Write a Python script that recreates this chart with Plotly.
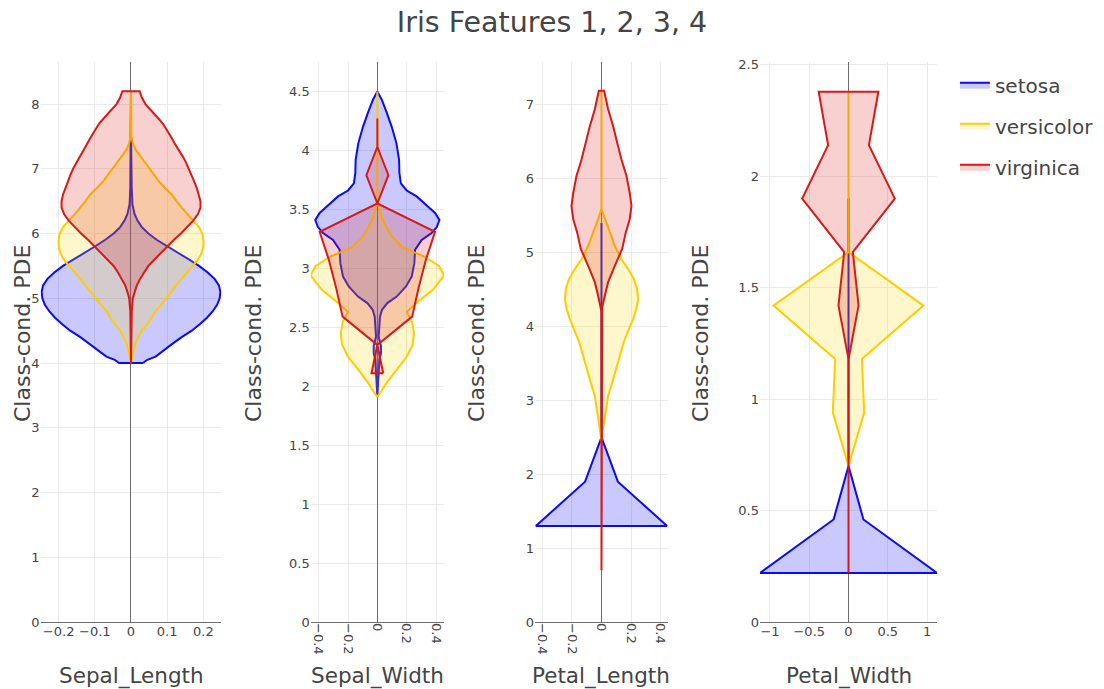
import plotly.graph_objects as go

# ---------------- data ----------------
classes = ["setosa", "versicolor", "virginica"]
features = ["Sepal_Length", "Sepal_Width", "Petal_Length", "Petal_Width"]

# Sepal_Length : value grid (y) and half-width of class-conditional PDE (w)
sl_setosa_y = [4.0, 4.05, 4.1, 4.2, 4.3, 4.4, 4.5, 4.6, 4.7, 4.8, 4.9, 5.0, 5.1, 5.2, 5.3, 5.4,
               5.5, 5.6, 5.7, 5.8, 5.9, 6.0, 6.1, 6.2, 6.3, 6.45, 6.7, 7.5, 8.2]
sl_setosa_w = [0.033, 0.045, 0.068, 0.09, 0.115, 0.14, 0.168, 0.19, 0.21, 0.226, 0.238, 0.245,
               0.247, 0.243, 0.231, 0.212, 0.188, 0.16, 0.13, 0.1, 0.072, 0.048, 0.03, 0.018,
               0.01, 0.004, 0.002, 0.0, 0.0]
sl_versicolor_y = [4.0, 4.15, 4.3, 4.4, 4.5, 4.6, 4.7, 4.8, 4.9, 5.0, 5.1, 5.2, 5.3, 5.4, 5.5,
                   5.6, 5.7, 5.8, 5.9, 6.0, 6.1, 6.2, 6.3, 6.4, 6.5, 6.6, 6.7, 6.8, 6.9, 7.0,
                   7.1, 7.2, 7.3, 7.4, 7.5, 8.2]
sl_versicolor_w = [0.0, 0.006, 0.012, 0.02, 0.03, 0.045, 0.057, 0.068, 0.083, 0.098, 0.112,
                   0.125, 0.14, 0.155, 0.172, 0.186, 0.195, 0.2, 0.2, 0.197, 0.188, 0.172,
                   0.155, 0.14, 0.126, 0.113, 0.095, 0.078, 0.065, 0.052, 0.038, 0.025, 0.012,
                   0.005, 0.001, 0.0]
sl_virginica_y = [4.0, 4.5, 4.8, 5.0, 5.1, 5.2, 5.3, 5.4, 5.5, 5.6, 5.7, 5.8, 5.9, 6.0, 6.1,
                  6.2, 6.3, 6.4, 6.5, 6.6, 6.7, 6.8, 6.9, 7.0, 7.1, 7.2, 7.3, 7.4, 7.5, 7.6,
                  7.7, 7.8, 7.9, 8.0, 8.1, 8.2]
sl_virginica_w = [0.0, 0.001, 0.002, 0.005, 0.01, 0.016, 0.025, 0.036, 0.048, 0.065, 0.082,
                  0.1, 0.118, 0.138, 0.155, 0.172, 0.185, 0.192, 0.192, 0.188, 0.182, 0.175,
                  0.168, 0.16, 0.152, 0.142, 0.13, 0.12, 0.11, 0.1, 0.088, 0.072, 0.055, 0.04,
                  0.03, 0.024]

# Sepal_Width
sw_setosa_y = [1.91, 2.03, 2.14, 2.225, 2.28, 2.34, 2.42, 2.51, 2.59, 2.648, 2.705, 2.76,
               2.846, 2.93, 3.044, 3.157, 3.24, 3.30, 3.35, 3.41, 3.47, 3.52, 3.61, 3.66,
               3.72, 3.81, 3.92, 4.06, 4.20, 4.32, 4.43, 4.5]
sw_setosa_w = [0.0, 0.005, 0.009, 0.014, 0.025, 0.025, 0.009, 0.014, 0.018, 0.032, 0.068,
               0.132, 0.195, 0.234, 0.252, 0.257, 0.302, 0.37, 0.405, 0.423, 0.393, 0.348,
               0.268, 0.2, 0.16, 0.15, 0.148, 0.13, 0.098, 0.064, 0.03, 0.0]
sw_versicolor_y = [1.91, 1.94, 2.03, 2.14, 2.25, 2.35, 2.45, 2.55, 2.63, 2.70, 2.82, 2.94,
                   3.02, 3.10, 3.18, 3.27, 3.35, 3.43, 3.565, 4.5]
sw_versicolor_w = [0.0, 0.018, 0.064, 0.13, 0.2, 0.24, 0.25, 0.235, 0.2, 0.26, 0.38, 0.455,
                   0.42, 0.32, 0.17, 0.1, 0.06, 0.03, 0.0, 0.0]
sw_virginica_y = [2.11, 2.35, 2.59, 2.83, 3.07, 3.31, 3.55, 3.79, 4.03, 4.27]
sw_virginica_w = [0.04, 0.0, 0.237, 0.28, 0.33, 0.393, 0.0, 0.075, 0.0, 0.0]

# Petal_Length
pl_setosa_y = [1.3, 1.9, 2.5, 5.4]
pl_setosa_w = [0.444, 0.111, 0.0, 0.0]
pl_versicolor_y = [2.45, 2.6, 2.8, 3.06, 3.25, 3.43, 3.6, 3.79, 3.97, 4.1, 4.24, 4.37, 4.51,
                   4.64, 4.78, 4.91, 5.09, 5.27, 5.45, 5.59, 7.2]
pl_versicolor_w = [0.0, 0.008, 0.025, 0.045, 0.074, 0.101, 0.124, 0.151, 0.187, 0.214, 0.236,
                   0.248, 0.241, 0.22, 0.18, 0.135, 0.09, 0.056, 0.023, 0.0, 0.0]
pl_virginica_y = [0.7, 4.2, 4.26, 4.42, 4.6, 4.82, 5.05, 5.27, 5.45, 5.63, 5.81, 6.04, 6.26,
                  6.49, 6.71, 6.94, 7.19]
pl_virginica_w = [0.0, 0.0, 0.005, 0.023, 0.045, 0.09, 0.14, 0.164, 0.191, 0.203, 0.191,
                  0.169, 0.135, 0.106, 0.079, 0.045, 0.018]

# Petal_Width
pw_setosa_y = [0.22, 0.46, 0.70, 0.94, 1.18, 1.42, 1.66, 1.90]
pw_setosa_w = [1.127, 0.19, 0.0, 0.0, 0.0, 0.0, 0.0, 0.0]
pw_versicolor_y = [0.70, 0.94, 1.18, 1.42, 1.66, 1.90, 2.14, 2.38]
pw_versicolor_w = [0.0, 0.2, 0.17, 0.955, 0.0, 0.0, 0.0, 0.0]
pw_virginica_y = [0.22, 0.46, 0.70, 0.94, 1.18, 1.42, 1.66, 1.90, 2.14, 2.38]
pw_virginica_w = [0.0, 0.0, 0.0, 0.0, 0.0, 0.128, 0.055, 0.59, 0.26, 0.38]

shapes = {
    "Sepal_Length": [(sl_setosa_y, sl_setosa_w), (sl_versicolor_y, sl_versicolor_w),
                     (sl_virginica_y, sl_virginica_w)],
    "Sepal_Width": [(sw_setosa_y, sw_setosa_w), (sw_versicolor_y, sw_versicolor_w),
                    (sw_virginica_y, sw_virginica_w)],
    "Petal_Length": [(pl_setosa_y, pl_setosa_w), (pl_versicolor_y, pl_versicolor_w),
                     (pl_virginica_y, pl_virginica_w)],
    "Petal_Width": [(pw_setosa_y, pw_setosa_w), (pw_versicolor_y, pw_versicolor_w),
                    (pw_virginica_y, pw_virginica_w)],
}

# ---------------- styling ----------------
line_colors = ["rgb(10,10,245)", "rgb(255,204,0)", "rgb(214,26,26)"]
fill_colors = ["rgba(0,0,255,0.21)", "rgba(255,215,0,0.2)", "rgba(220,20,20,0.2)"]

FONT = "DejaVu Sans, Verdana, sans-serif"
TXT = "#444"

x_domains = [[0.0006, 0.2023], [0.3018, 0.4504], [0.5518, 0.7001], [0.8027, 1.0]]
x_ranges = [[-0.25, 0.25], [-0.454, 0.454], [-0.45, 0.45], [-1.127, 1.127]]
x_dticks = [0.1, 0.2, 0.2, 0.5]
x_angles = [0, 90, 90, 0]
y_ranges = [[0, 8.65], [0, 4.75], [0, 7.58], [0, 2.513]]
y_dticks = [1, 0.5, 1, 0.5]
ytitle_x = [22, 253, 476, 700]

fig = go.Figure()

for i, feat in enumerate(features):
    ax = "" if i == 0 else str(i + 1)
    for c, cls in enumerate(classes):
        yv, wv = shapes[feat][c]
        xs = list(wv) + [-v for v in reversed(wv)] + [wv[0]]
        ys = list(yv) + list(reversed(yv)) + [yv[0]]
        fig.add_trace(go.Scatter(
            x=xs, y=ys, mode="lines", fill="toself",
            line=dict(color=line_colors[c], width=2),
            fillcolor=fill_colors[c],
            name=cls, legendgroup=cls, showlegend=(i == 0),
            xaxis="x" + ax, yaxis="y" + ax, hoverinfo="skip",
        ))

axis_common = dict(
    showgrid=True, gridcolor="#ebebeb", gridwidth=1,
    zeroline=True, zerolinecolor="#6e6e6e", zerolinewidth=1.3,
    showline=False, ticks="",
    tickfont=dict(family=FONT, size=13, color=TXT),
)

layout = dict(
    width=1104, height=689,
    margin=dict(l=40, r=167, t=62, b=67, autoexpand=False),
    paper_bgcolor="white", plot_bgcolor="white",
    font=dict(family=FONT, color=TXT),
    title=dict(text="Iris Features 1, 2, 3, 4", x=0.5, xanchor="center",
               y=1 - 22 / 689, yanchor="middle",
               font=dict(family=FONT, size=28.5, color=TXT)),
    legend=dict(x=1.02, y=0.994, xanchor="left", yanchor="top",
                font=dict(family=FONT, size=20, color=TXT),
                tracegroupgap=12, bgcolor="rgba(0,0,0,0)"),
    showlegend=True,
)

annotations = []
for i, feat in enumerate(features):
    ax = "" if i == 0 else str(i + 1)
    layout["xaxis" + ax] = dict(axis_common, domain=x_domains[i], range=x_ranges[i],
                                dtick=x_dticks[i], tick0=0, tickangle=x_angles[i],
                                anchor="y" + ax, fixedrange=True, automargin=False)
    layout["yaxis" + ax] = dict(axis_common, domain=[0, 1], range=y_ranges[i],
                                dtick=y_dticks[i], tick0=0, anchor="x" + ax,
                                fixedrange=True, automargin=False)
    cx = (x_domains[i][0] + x_domains[i][1]) / 2
    annotations.append(dict(text=feat, xref="paper", yref="paper", x=cx, y=-54 / 560,
                            xanchor="center", yanchor="middle", showarrow=False,
                            font=dict(family=FONT, size=21.5, color=TXT)))
    annotations.append(dict(text="Class-cond. PDE", xref="paper", yref="paper",
                            x=(ytitle_x[i] - 40) / 897, y=(622 - 334) / 560,
                            xanchor="center", yanchor="middle", textangle=-90,
                            showarrow=False,
                            font=dict(family=FONT, size=22, color=TXT)))

layout["annotations"] = annotations
fig.update_layout(**layout)

fig.write_html("out.html",
               config={"displayModeBar": False},
               post_script="document.body.style.margin='0';"
                           "document.body.style.overflow='hidden';")
